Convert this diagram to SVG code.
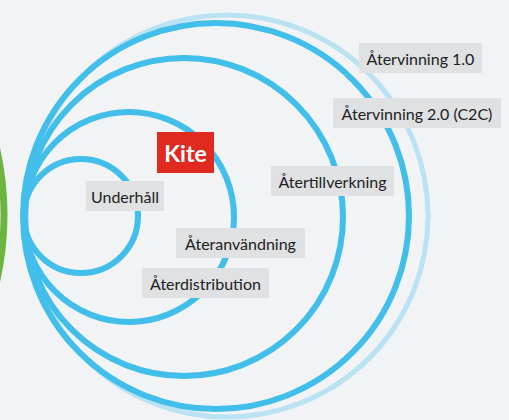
<svg xmlns="http://www.w3.org/2000/svg" width="509" height="420" viewBox="0 0 509 420">
<style>
.c{fill:none;stroke:#41bee9;stroke-width:6}
.lb{fill:#dfe1e3}
.t{font-family:Lato,"Noto Sans",sans-serif;font-size:16px;fill:#222;text-anchor:middle;dominant-baseline:central}
</style>
<rect width="509" height="420" fill="#f1f3f5"/>
<circle cx="-297" cy="215" r="301" fill="none" stroke="#6db540" stroke-width="7"/>
<g id="connectors">
<circle cx="227" cy="216" r="201" fill="none" stroke="#b9e2f2" stroke-width="5"/>
<circle class="c" cx="216" cy="216" r="193"/>
<circle class="c" cx="184" cy="217" r="159"/>
<circle class="c" cx="129" cy="217" r="105"/>
<circle class="c" cx="81" cy="216" r="57"/>
</g>
<g id="n-atervinning1"><rect class="lb" x="359" y="43" width="123" height="30"/><text class="t" x="420.5" y="58.5">Återvinning 1.0</text></g>
<g id="n-atervinning2"><rect class="lb" x="333" y="98" width="168" height="30"/><text class="t" x="417" y="113.5">Återvinning 2.0 (C2C)</text></g>
<g id="n-atertillverkning"><rect class="lb" x="271" y="166" width="123" height="30"/><text class="t" x="332.5" y="181.5">Återtillverkning</text></g>
<g id="n-kite"><rect x="157" y="132" width="57" height="41" fill="#e02a20"/><text x="185.5" y="153" font-family="Lato,'Noto Sans',sans-serif" font-size="23" font-weight="bold" fill="#fff" text-anchor="middle" dominant-baseline="central">Kite</text></g>
<g id="n-underhall"><rect class="lb" x="86" y="181" width="78" height="30"/><text class="t" x="125" y="196.5">Underhåll</text></g>
<g id="n-ateranvandning"><rect class="lb" x="176" y="228" width="129" height="30"/><text class="t" x="240.5" y="243.5">Återanvändning</text></g>
<g id="n-aterdistribution"><rect class="lb" x="142" y="268" width="127" height="30"/><text class="t" x="205.5" y="283.5">Återdistribution</text></g>
</svg>
